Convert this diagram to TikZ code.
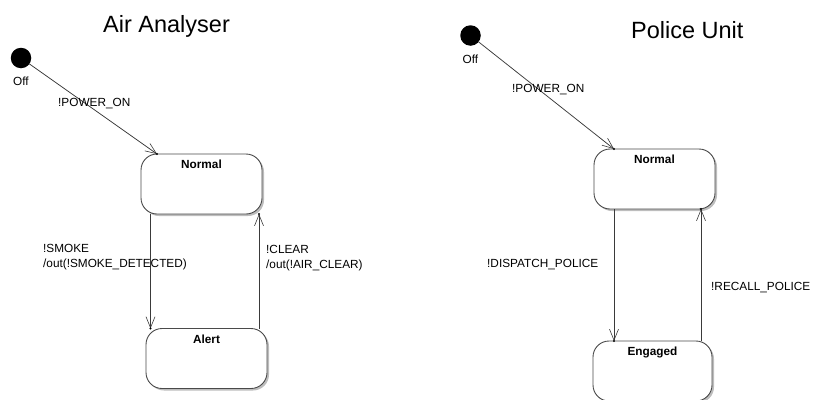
\documentclass[tikz,border=0pt]{standalone}
\usepackage{fontspec}
\setmainfont{Liberation Sans}
\usetikzlibrary{arrows.meta,shadows}

\definecolor{linegray}{HTML}{3A3A3A}
\definecolor{boxgray}{HTML}{4A4A4A}
\definecolor{shadowgray}{HTML}{BDBDBD}

\tikzset{
  title/.style={anchor=base west, inner sep=0pt, font=\fontsize{23.5}{28}\selectfont},
  lbl/.style={anchor=base west, inner sep=0pt, align=left, font=\fontsize{11.8}{15}\selectfont},
  initial/.style={circle, fill=black, minimum size=20.5pt, inner sep=0pt, outer sep=0pt},
  statebox/.style={draw=boxgray, fill=white, line width=0.9pt, rounded corners=16pt,
    minimum width=121pt, inner xsep=4pt, inner ysep=6.3pt,
    text height=8.4pt, text depth=39pt, outer sep=0pt,
    font=\bfseries\fontsize{11.8}{14}\selectfont,
    drop shadow={shadow xshift=2pt, shadow yshift=-2pt, fill=shadowgray, opacity=1}},
  trans/.style={draw=linegray, line width=0.75pt,
    -{Straight Barb[length=11pt, width=9pt, line width=0.6pt]}},
  tipdot/.style={fill=black}
}

\begin{document}
\begin{tikzpicture}[x=1pt, y=-1pt]
  \useasboundingbox (0,0) rectangle (814,399);

  % ---------- Air Analyser ----------
  \node[title] (atitle) at (103,32) {Air Analyser};
  \node[initial] (aoff) at (21,58) {};
  \node[lbl] (aofflbl) at (13,85) {Off};
  \node[statebox] (anorm) at (201.5,184) {Normal};
  \node[statebox] (aalert) at (206.5,358.5) {Alert};

  \coordinate (aon) at ([xshift=16pt]anorm.north west);
  \coordinate (asmk) at ([xshift=9.5pt]anorm.south west);
  \coordinate (asmkend) at (asmk |- aalert.north);
  \coordinate (aclr) at ([xshift=-8pt]aalert.north east);
  \coordinate (aclrend) at (aclr |- anorm.south);

  \draw[trans] (aoff) -- (aon);
  \draw[trans] (asmk) -- (asmkend);
  \draw[trans] (aclr) -- (aclrend);
  \foreach \p in {aon, asmkend, aclrend} \fill[tipdot] (\p) circle (1.2pt);

  \node[lbl] (apwr) at (58,106.5) {!POWER\_ON};
  \node[lbl] (asmklbl) at (43,267.7) {!SMOKE\\/out(!SMOKE\_DETECTED)};
  \node[lbl] (aclrlbl) at (266,268) {!CLEAR\\/out(!AIR\_CLEAR)};

  % ---------- Police Unit ----------
  \node[title] (ptitle) at (631,38) {Police Unit};
  \node[initial] (poff) at (470.5,35.5) {};
  \node[lbl] (pofflbl) at (462.5,63.5) {Off};
  \node[statebox] (pnorm) at (654.5,179) {Normal};
  \node[statebox, minimum width=119pt] (peng) at (652.5,371) {Engaged};

  \coordinate (pon) at ([xshift=20pt]pnorm.north west);
  \coordinate (pdsp) at ([xshift=20pt]pnorm.south west);
  \coordinate (pdspend) at (pdsp |- peng.north);
  \coordinate (prcl) at ([xshift=-11pt]peng.north east);
  \coordinate (prclend) at (prcl |- pnorm.south);

  \draw[trans] (poff) -- (pon);
  \draw[trans] (pdsp) -- (pdspend);
  \draw[trans] (prcl) -- (prclend);
  \foreach \p in {pon, pdspend, prclend} \fill[tipdot] (\p) circle (1.2pt);

  \node[lbl] (ppwr) at (512,92.3) {!POWER\_ON};
  \node[lbl] (pdsplbl) at (487,267) {!DISPATCH\_POLICE};
  \node[lbl] (prcllbl) at (711,290.5) {!RECALL\_POLICE};
\end{tikzpicture}
\end{document}
